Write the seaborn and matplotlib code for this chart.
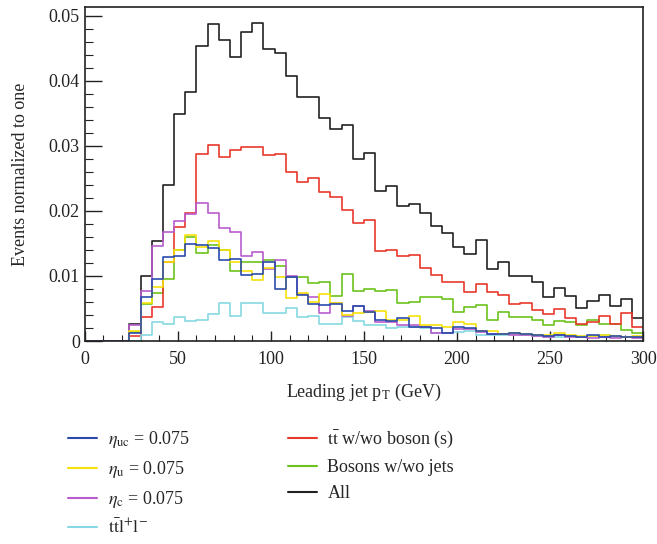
import numpy as np
import pandas as pd
import matplotlib
matplotlib.use("Agg")
import matplotlib.pyplot as plt
from matplotlib.lines import Line2D
from matplotlib.ticker import MultipleLocator, FixedLocator, FixedFormatter
import seaborn as sns

# 50 bins of 6 GeV from 0 to 300
edges = np.arange(0, 301, 6)
centres = edges[:-1] + 3

eta_uc = [0, 0, 0, 0, 0.0013, 0.0067, 0.0095, 0.0129, 0.0130, 0.0149,
          0.0147, 0.0143, 0.0124, 0.0126, 0.0102, 0.0103, 0.0121, 0.0080, 0.0099, 0.0071,
          0.0057, 0.0055, 0.0057, 0.0046, 0.0054, 0.0045, 0.0032, 0.0031, 0.0036, 0.0022,
          0.0022, 0.0020, 0.0012, 0.0022, 0.0020, 0.0015, 0.0011, 0.0011, 0.0012, 0.0011,
          0.0009, 0.0008, 0.0010, 0.0008, 0.0007, 0.0009, 0.0007, 0.0008, 0.0006, 0.0006]
eta_u = [0, 0, 0, 0, 0.0016, 0.0058, 0.0083, 0.0122, 0.0140, 0.0163,
         0.0145, 0.0154, 0.0140, 0.0122, 0.0108, 0.0094, 0.0112, 0.0098, 0.0066, 0.0074,
         0.0060, 0.0073, 0.0059, 0.0040, 0.0043, 0.0044, 0.0046, 0.0032, 0.0032, 0.0039,
         0.0024, 0.0024, 0.0021, 0.0029, 0.0026, 0.0016, 0.0015, 0.0011, 0.0012, 0.0011,
         0.0010, 0.0009, 0.0012, 0.0009, 0.0008, 0.0008, 0.0010, 0.0008, 0.0007, 0.0008]
eta_c = [0, 0, 0, 0, 0.0024, 0.0077, 0.0146, 0.0167, 0.0184, 0.0195,
         0.0212, 0.0196, 0.0173, 0.0167, 0.0131, 0.0137, 0.0110, 0.0125, 0.0100, 0.0072,
         0.0068, 0.0043, 0.0058, 0.0038, 0.0054, 0.0046, 0.0030, 0.0030, 0.0025, 0.0024,
         0.0022, 0.0013, 0.0012, 0.0019, 0.0018, 0.0014, 0.0011, 0.0011, 0.0009, 0.0009,
         0.0008, 0.0006, 0.0009, 0.0007, 0.0006, 0.0005, 0.0007, 0.0005, 0.0006, 0.0005]
ttll = [0, 0, 0, 0, 0, 0.0009, 0.0029, 0.0026, 0.0037, 0.0031,
        0.0033, 0.0041, 0.0059, 0.0039, 0.0059, 0.0059, 0.0043, 0.0043, 0.0051, 0.0037,
        0.0038, 0.0026, 0.0026, 0.0037, 0.0031, 0.0025, 0.0025, 0.0020, 0.0022, 0.0021,
        0.0020, 0.0012, 0.0013, 0.0014, 0.0015, 0.0010, 0.0009, 0.0010, 0.0011, 0.0009,
        0.0008, 0.0007, 0.0006, 0.0008, 0.0007, 0.0008, 0.0009, 0.0007, 0.0006, 0.0006]
ttbar = [0, 0, 0, 0, 0.0008, 0.0037, 0.0053, 0.0122, 0.0175, 0.0196,
         0.0288, 0.0301, 0.0283, 0.0294, 0.0298, 0.0298, 0.0286, 0.0288, 0.0260, 0.0245,
         0.0251, 0.0229, 0.0222, 0.0202, 0.0182, 0.0186, 0.0139, 0.0140, 0.0131, 0.0132,
         0.0112, 0.0102, 0.0091, 0.0091, 0.0076, 0.0088, 0.0075, 0.0071, 0.0057, 0.0059,
         0.0047, 0.0042, 0.0050, 0.0036, 0.0026, 0.0029, 0.0039, 0.0027, 0.0043, 0.0021]
bosons = [0, 0, 0, 0, 0.0014, 0.0057, 0.0074, 0.0095, 0.0140, 0.0160,
          0.0136, 0.0148, 0.0140, 0.0107, 0.0122, 0.0122, 0.0124, 0.0115, 0.0098, 0.0098,
          0.0089, 0.0090, 0.0069, 0.0103, 0.0077, 0.0080, 0.0077, 0.0078, 0.0058, 0.0060,
          0.0068, 0.0068, 0.0064, 0.0044, 0.0052, 0.0055, 0.0032, 0.0044, 0.0037, 0.0037,
          0.0033, 0.0024, 0.0031, 0.0029, 0.0024, 0.0033, 0.0027, 0.0026, 0.0017, 0.0013]
all_ev = [0, 0, 0, 0, 0.0026, 0.0100, 0.0153, 0.0240, 0.0349, 0.0383,
          0.0453, 0.0487, 0.0462, 0.0436, 0.0475, 0.0488, 0.0448, 0.0443, 0.0407, 0.0375,
          0.0375, 0.0343, 0.0326, 0.0332, 0.0280, 0.0289, 0.0231, 0.0238, 0.0207, 0.0210,
          0.0197, 0.0177, 0.0166, 0.0145, 0.0133, 0.0155, 0.0111, 0.0121, 0.0100, 0.0100,
          0.0090, 0.0067, 0.0081, 0.0069, 0.0051, 0.0061, 0.0071, 0.0054, 0.0064, 0.0036]

labels = [r"$\eta_{\mathrm{uc}}$ = 0.075", r"$\eta_{\mathrm{u}}$ = 0.075",
          r"$\eta_{\mathrm{c}}$ = 0.075", r"$\mathrm{t\bar{t}l^{+}l^{-}}$",
          r"$\mathrm{t\bar{t}}$ w/wo boson (s)", "Bosons w/wo jets", "All"]
colors = ["#2b4bab", "#f5e20a", "#b95ccc", "#86d8e2", "#e8382c", "#6cc21c", "#222222"]
series = [eta_uc, eta_u, eta_c, ttll, ttbar, bosons, all_ev]

df = pd.concat([pd.DataFrame({"pt": centres, "w": s, "sample": lab})
                for s, lab in zip(series, labels)], ignore_index=True)

sns.set_style("ticks")
plt.rcParams["font.family"] = ["Liberation Serif", "DejaVu Serif"]
plt.rcParams["mathtext.fontset"] = "stix"

fig = plt.figure(figsize=(6.57, 5.44), dpi=100)
ax = fig.add_axes([0.129, 0.373, 0.850, 0.614])

sns.histplot(data=df, x="pt", weights="w", hue="sample", hue_order=labels,
             palette=dict(zip(labels, colors)), bins=50, binrange=(0, 300),
             element="step", fill=False, legend=False, linewidth=1.2, ax=ax)

ax.set_xlim(0, 300)
ax.set_ylim(0, 0.0513)
ax.xaxis.set_major_locator(MultipleLocator(50))
ax.xaxis.set_minor_locator(MultipleLocator(10))
ax.yaxis.set_major_locator(FixedLocator([0, 0.01, 0.02, 0.03, 0.04, 0.05]))
ax.yaxis.set_major_formatter(FixedFormatter(["0", "0.01", "0.02", "0.03", "0.04", "0.05"]))
ax.yaxis.set_minor_locator(MultipleLocator(0.002))
ax.tick_params(axis="both", which="both", direction="in", labelsize=13, colors="#222222")
ax.tick_params(axis="x", which="major", length=7, width=1)
ax.tick_params(axis="x", which="minor", length=4, width=0.8)
ax.tick_params(axis="y", which="major", length=12, width=1)
ax.tick_params(axis="y", which="minor", length=6, width=0.8)
ax.tick_params(axis="x", pad=7)
for sp in ax.spines.values():
    sp.set_visible(True)
    sp.set_linewidth(1.2)
    sp.set_color("#222222")

ax.set_xlabel(r"Leading jet p$_\mathrm{T}$ (GeV)", fontsize=13, labelpad=10)
ax.set_ylabel("Events normalized to one", fontsize=13, labelpad=14)

handles = [Line2D([], [], color=c, lw=1.5) for c in colors]
fig.legend(handles, labels, loc="upper left", bbox_to_anchor=(0.104, 0.212),
           ncol=2, frameon=False, fontsize=13, handlelength=1.6,
           handletextpad=0.6, columnspacing=5.4, labelspacing=0.5,
           borderpad=0, borderaxespad=0)

fig.savefig("out.png", dpi=100)
